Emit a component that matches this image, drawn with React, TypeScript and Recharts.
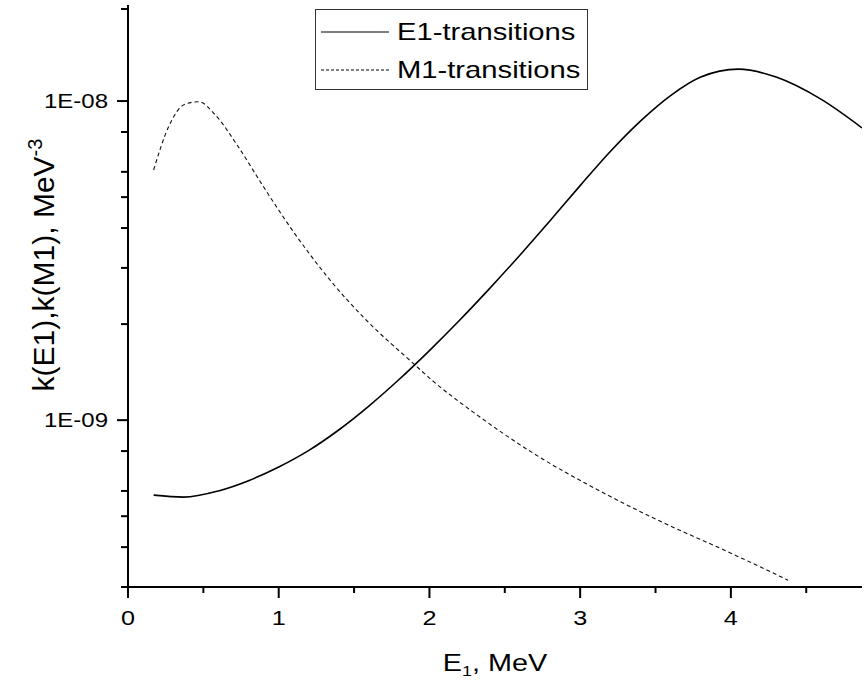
import { Line, LineChart, XAxis, YAxis } from "recharts";

// photon strength functions
const e1Energy = [0.17, 0.37, 0.6, 0.8, 1.0, 1.2, 1.4, 1.6, 1.8, 2.0, 2.2, 2.4, 2.6, 2.8, 3.0, 3.2, 3.4, 3.6, 3.8, 4.05, 4.3, 4.6, 4.87];
const e1Kappa = [5.82e-10, 5.74e-10, 6.0e-10, 6.46e-10, 7.13e-10, 8.04e-10, 9.33e-10, 1.109e-9, 1.343e-9, 1.652e-9, 2.056e-9, 2.588e-9, 3.289e-9, 4.217e-9, 5.433e-9, 6.95e-9, 8.65e-9, 1.04e-8, 1.189e-8, 1.259e-8, 1.189e-8, 1.012e-8, 8.24e-9];

const m1Energy = [0.17, 0.27, 0.38, 0.47, 0.58, 0.72, 0.89, 1.09, 1.34, 1.58, 1.89, 2.02, 2.29, 2.69, 3.13, 3.5, 4.0, 4.38];
const m1Kappa = [6.08e-9, 8.32e-9, 9.79e-9, 9.95e-9, 9.04e-9, 7.33e-9, 5.47e-9, 3.94e-9, 2.75e-9, 2.06e-9, 1.51e-9, 1.33e-9, 1.06e-9, 7.87e-10, 6.0e-10, 4.9e-10, 3.83e-10, 3.15e-10];

const xTicks = [0, 0.5, 1, 1.5, 2, 2.5, 3, 3.5, 4, 4.5];
const xLabels = [0, 1, 2, 3, 4];
const yTicks = [3e-10, 4e-10, 5e-10, 6e-10, 7e-10, 8e-10, 9e-10, 1e-9, 2e-9, 3e-9, 4e-9, 5e-9, 6e-9, 7e-9, 8e-9, 9e-9, 1e-8, 2e-8];
const yLabels: Record<string, string> = { "1e-9": "1E-09", "1e-8": "1E-08" };

const e1Data = e1Energy.map((x, i) => ({ x, y: e1Kappa[i] }));
const m1Data = m1Energy.map((x, i) => ({ x, y: m1Kappa[i] }));

const FONT = "'Liberation Sans', Arial, sans-serif";
const STRETCH = 1.2;

function XTick({ x, y, payload }: any) {
    const major = xLabels.includes(payload.value);
    return (
        <g>
            <line x1={x} x2={x} y1={y} y2={y + (major ? 11 : 6)} stroke="#000" strokeWidth={2} />
            {major && (
                <text transform={`translate(${x},${y + 38}) scale(${STRETCH},1)`} textAnchor="middle" fontSize={21} fontFamily={FONT} fill="#000">
                    {payload.value}
                </text>
            )}
        </g>
    );
}

function YTick({ x, y, payload }: any) {
    const label = yLabels[String(payload.value)];
    return (
        <g>
            <line x1={x} x2={x - (label ? 11 : 7)} y1={y} y2={y} stroke="#000" strokeWidth={2} />
            {label && (
                <text transform={`translate(${x - 20},${y + 7}) scale(${STRETCH},1)`} textAnchor="end" fontSize={20} fontFamily={FONT} fill="#000">
                    {label}
                </text>
            )}
        </g>
    );
}

function XTitle() {
    return (
        <text transform={`translate(495,671) scale(${STRETCH},1)`} textAnchor="middle" fontSize={24} fontFamily={FONT} fill="#000">
            E<tspan fontSize={15} dy={5}>1</tspan>
            <tspan dy={-5}>, MeV</tspan>
        </text>
    );
}

function YTitle() {
    return (
        <text transform="translate(54,265) rotate(-90)" textAnchor="middle" fontSize={30} fontFamily={FONT} fill="#000">
            k(E1),k(M1), MeV<tspan fontSize={20} dy={-12}>-3</tspan>
        </text>
    );
}

function LegendBox() {
    return (
        <svg width={273} height={81} style={{ position: "absolute", left: 315, top: 9 }}>
            <rect x={0.5} y={0.5} width={272} height={80} fill="#fff" stroke="#333" strokeWidth={1} />
            <line x1={6} x2={74} y1={23} y2={23} stroke="#000" strokeWidth={1.2} />
            <line x1={6} x2={74} y1={61} y2={61} stroke="#000" strokeWidth={1} strokeDasharray="3 2" />
            <text transform="translate(82,31) scale(1.27,1)" fontSize={23} fontFamily={FONT} fill="#000">E1-transitions</text>
            <text transform="translate(82,69) scale(1.27,1)" fontSize={23} fontFamily={FONT} fill="#000">M1-transitions</text>
        </svg>
    );
}

export default function App() {
    return (
        <div style={{ position: "absolute", left: 0, top: 0, width: 868, height: 681, background: "#fff" }}>
            <LineChart width={868} height={681} margin={{ top: 5, right: 6, left: 0, bottom: 0 }}>
                <XAxis
                    type="number"
                    dataKey="x"
                    domain={[0, 4.87]}
                    ticks={xTicks}
                    allowDataOverflow
                    height={94}
                    tickSize={0}
                    tickMargin={0}
                    tickLine={false}
                    axisLine={{ stroke: "#000", strokeWidth: 2 }}
                    tick={<XTick />}
                    label={<XTitle />}
                />
                <YAxis
                    type="number"
                    dataKey="y"
                    scale="log"
                    domain={[3e-10, 2e-8]}
                    ticks={yTicks}
                    allowDataOverflow
                    width={128}
                    tickSize={0}
                    tickMargin={0}
                    tickLine={false}
                    axisLine={{ stroke: "#000", strokeWidth: 2 }}
                    tick={<YTick />}
                    label={<YTitle />}
                />
                <Line data={e1Data} dataKey="y" name="E1-transitions" type="monotone" stroke="#000" strokeWidth={1.6} dot={false} isAnimationActive={false} />
                <Line data={m1Data} dataKey="y" name="M1-transitions" type="monotone" stroke="#111" strokeWidth={1.1} strokeDasharray="4 3" dot={false} isAnimationActive={false} />
            </LineChart>
            <LegendBox />
        </div>
    );
}
